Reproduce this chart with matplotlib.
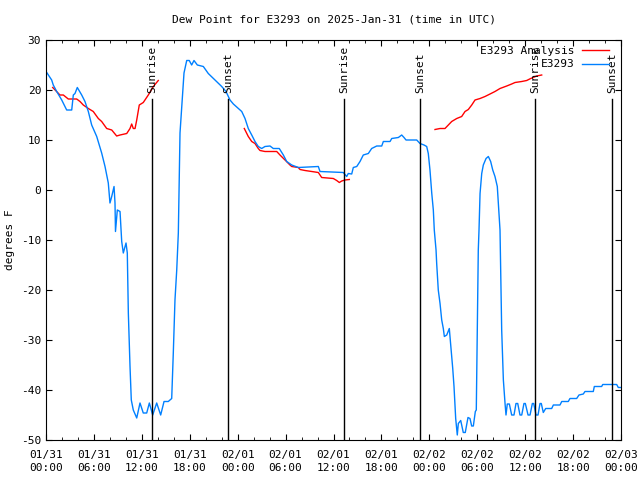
import numpy as np
import pandas as pd
import matplotlib
matplotlib.use("Agg")
import matplotlib.pyplot as plt
import matplotlib.dates as mdates
import matplotlib.transforms as mtransforms

plt.rcParams['font.family'] = ['DejaVu Sans Mono']
plt.rcParams['font.size'] = 8
plt.rcParams['axes.unicode_minus'] = False

start = pd.Timestamp("2025-01-31 00:00")

# observed dew point (hours since start, degrees F)
obs_hours = [0.09, 0.71, 0.91, 1.34, 1.97, 2.59, 3.22, 3.42, 3.63, 3.92, 4.47, 4.88, 5.30, 5.72,
             6.35, 6.97, 7.39, 7.80, 8.01, 8.23, 8.52, 8.64, 8.70, 8.93, 9.27, 9.48, 9.68, 10.02,
             10.18, 10.31, 10.52, 10.68, 10.93, 11.36, 11.77, 12.18, 12.61, 12.94, 13.36, 13.86,
             14.36, 14.78, 15.31, 15.74, 15.94, 16.15, 16.37, 16.57, 16.78, 17.12, 17.28, 17.62,
             17.94, 18.24, 18.53, 18.95, 19.70, 20.32, 21.16, 22.00, 22.54, 23.04, 23.46, 24.08,
             24.51, 24.92, 25.33, 25.76, 26.17, 26.58, 27.01, 27.42, 28.05, 28.46, 29.21, 29.72,
             30.14, 30.77, 31.59, 34.10, 34.31, 37.23, 37.65, 37.85, 38.28, 38.48, 38.91, 39.32,
             39.73, 40.36, 40.78, 41.41, 42.04, 42.24, 43.08, 43.29, 44.12, 44.54, 44.83, 45.08,
             46.42, 46.83, 47.33, 47.67, 47.87, 48.08, 48.30, 48.50, 48.62, 48.84, 48.92, 49.12,
             49.34, 49.55, 49.75, 49.88, 50.18, 50.50, 50.71, 50.93, 51.09, 51.30, 51.50, 51.63,
             51.93, 52.25, 52.50, 52.84, 53.09, 53.30, 53.51, 53.76, 53.88, 54.01, 54.13, 54.22,
             54.35, 54.56, 54.76, 55.10, 55.39, 55.68, 55.94, 56.22, 56.51, 56.69, 56.85, 57.06,
             57.27, 57.48, 57.60, 57.76, 58.02, 58.31, 58.60, 58.85, 59.07, 59.35, 59.57, 59.85,
             60.02, 60.36, 60.61, 60.90, 61.07, 61.36, 61.61, 61.86, 62.02, 62.27, 62.57, 63.32,
             63.53, 64.36, 64.58, 65.40, 65.61, 66.45, 66.74, 67.28, 67.49, 68.53, 68.66, 69.58,
             69.71, 71.46, 71.66, 72.09]
obs_vals = [23.5, 22.0, 21.0, 19.7, 18.0, 16.0, 16.0, 19.0, 19.3, 20.5, 19.0, 17.7, 15.7, 13.0,
            10.7, 7.4, 4.7, 1.4, -2.6, -1.3, 0.7, -2.6, -8.3, -4.0, -4.3, -10.3, -12.6, -10.6,
            -12.6, -24.6, -35.3, -42.0, -44.0, -45.6, -42.6, -44.6, -44.6, -42.6, -45.0, -42.6,
            -45.0, -42.3, -42.3, -41.7, -32.6, -22.0, -16.0, -8.6, 11.4, 19.4, 23.4, 25.9,
            25.9, 25.0, 25.9, 25.0, 24.7, 23.3, 22.0, 20.7, 19.7, 18.0, 17.2, 16.3,
            15.7, 14.3, 12.3, 11.0, 9.7, 8.7, 8.3, 8.7, 8.8, 8.3, 8.3, 7.0,
            5.7, 5.0, 4.5, 4.7, 3.7, 3.5, 2.7, 3.3, 3.2, 4.5, 4.7, 5.7,
            7.0, 7.3, 8.3, 8.8, 8.8, 9.7, 9.7, 10.3, 10.5, 11.0, 10.5, 10.0,
            10.0, 9.3, 9.0, 8.7, 7.3, 4.0, -0.6, -4.0, -8.0, -12.0, -14.7, -20.0,
            -22.7, -26.0, -27.7, -29.3, -29.0, -27.7, -31.7, -35.7, -39.3, -45.7, -49.0, -46.7,
            -46.1, -48.5, -48.5, -45.5, -45.7, -47.2, -47.2, -44.3, -44.0, -27.3, -12.0, -8.0,
            -0.7, 3.3, 5.0, 6.3, 6.7, 5.7, 4.0, 2.7, 0.7, -4.0, -8.0, -28.0,
            -38.0, -42.7, -45.0, -42.8, -42.8, -45.0, -45.0, -42.7, -42.7, -45.0, -45.0, -42.7,
            -42.7, -45.0, -45.0, -42.7, -42.7, -45.0, -45.0, -42.7, -42.7, -44.5, -43.7, -43.7,
            -43.0, -43.0, -42.3, -42.3, -41.7, -41.7, -41.0, -40.8, -40.3, -40.3, -39.3, -39.3,
            -38.9, -38.9, -39.5, -39.5]

# analysis dew point, NaN where missing
ana_hours = [0.84, 1.75, 2.17, 2.79, 3.84, 4.26, 4.67, 5.30, 5.92, 6.55, 6.97, 7.60, 8.23, 8.85,
             9.27, 10.11, 10.52, 10.73, 10.93, 11.15, 11.36, 11.68, 12.18, 12.81, 13.44, 14.06,
             14.10,
             24.83, 25.33, 25.76, 26.17, 26.58, 26.80, 27.42, 28.89, 29.30, 29.93, 30.55, 30.77,
             31.59, 31.81, 32.43, 33.27, 34.10, 34.52, 35.98, 36.40, 36.73, 37.03, 37.44, 37.98,
             38.00,
             48.71, 49.34, 49.96, 50.38, 50.80, 51.43, 52.05, 52.47, 52.88, 53.31, 53.72, 54.35,
             54.97, 55.60, 56.22, 56.85, 57.69, 58.31, 58.73, 59.57, 60.19, 60.69, 61.02, 61.44,
             62.07]
ana_vals = [20.5, 19.0, 19.0, 18.2, 18.2, 17.7, 17.0, 16.3, 15.7, 14.3, 13.7, 12.3, 12.0, 10.8,
            11.0, 11.3, 12.3, 13.2, 12.3, 12.3, 14.0, 17.0, 17.5, 19.0, 20.7, 21.9,
            np.nan,
            12.3, 10.7, 9.7, 9.3, 8.3, 7.9, 7.7, 7.7, 7.0, 6.0, 5.0, 4.7,
            4.5, 4.1, 3.9, 3.7, 3.5, 2.5, 2.3, 1.9, 1.5, 1.8, 2.0, 2.1,
            np.nan,
            12.1, 12.3, 12.3, 13.0, 13.7, 14.3, 14.7, 15.7, 16.1, 17.0, 18.0, 18.3,
            18.7, 19.2, 19.7, 20.3, 20.8, 21.2, 21.5, 21.7, 21.9, 22.3, 22.5, 22.8,
            23.0]

# sunrise / sunset (hours since start)
sun_hours = [13.31, 22.83, 37.35, 46.87, 61.27, 70.91]
sun_labels = ["Sunrise", "Sunset", "Sunrise", "Sunset", "Sunrise", "Sunset"]

obs_t = start + pd.to_timedelta(obs_hours, unit="h")
ana_t = start + pd.to_timedelta(ana_hours, unit="h")
sun_t = start + pd.to_timedelta(sun_hours, unit="h")

fig = plt.figure(figsize=(6.4, 4.8), dpi=100)
ax = fig.add_axes([46 / 640, 40 / 480, 575 / 640, 400 / 480])

ax.plot(ana_t, ana_vals, color="#ff0000", lw=1, label="E3293 Analysis")
ax.plot(obs_t, obs_vals, color="#0080ff", lw=1, label="E3293")

trans = mtransforms.blended_transform_factory(ax.transData, ax.transAxes)
for t, lab in zip(sun_t, sun_labels):
    ax.axvline(t, ymin=0, ymax=0.8525, color="black", lw=1)
    ax.text(t, 0.8675, lab, rotation=90, ha="center", va="bottom", transform=trans)

ax.set_xlim(start, start + pd.Timedelta(hours=72))
ax.set_ylim(-50, 30)
ax.set_yticks(range(-50, 31, 10))
ax.xaxis.set_major_locator(mdates.HourLocator(byhour=range(0, 24, 6)))
ax.xaxis.set_minor_locator(mdates.HourLocator(byhour=range(0, 24, 2)))
ax.xaxis.set_major_formatter(mdates.DateFormatter("%m/%d\n%H:%M"))
ax.tick_params(which="both", direction="in", top=True, right=True)
ax.tick_params(which="major", length=4)
ax.tick_params(which="minor", length=2)
ax.tick_params(axis="x", which="major", pad=7)
for lbl in ax.get_xticklabels():
    lbl.set_linespacing(1.45)

ax.set_title("Dew Point for E3293 on 2025-Jan-31 (time in UTC)", fontsize=8, pad=12.5)
ax.set_ylabel("degrees F")

ax.legend(loc="upper right", bbox_to_anchor=(1 - 6 / 575, 1), frameon=False,
          markerfirst=False, handlelength=2.5, borderaxespad=0.1, labelspacing=0.35,
          handletextpad=0.6)

fig.savefig("out.png", dpi=100)
